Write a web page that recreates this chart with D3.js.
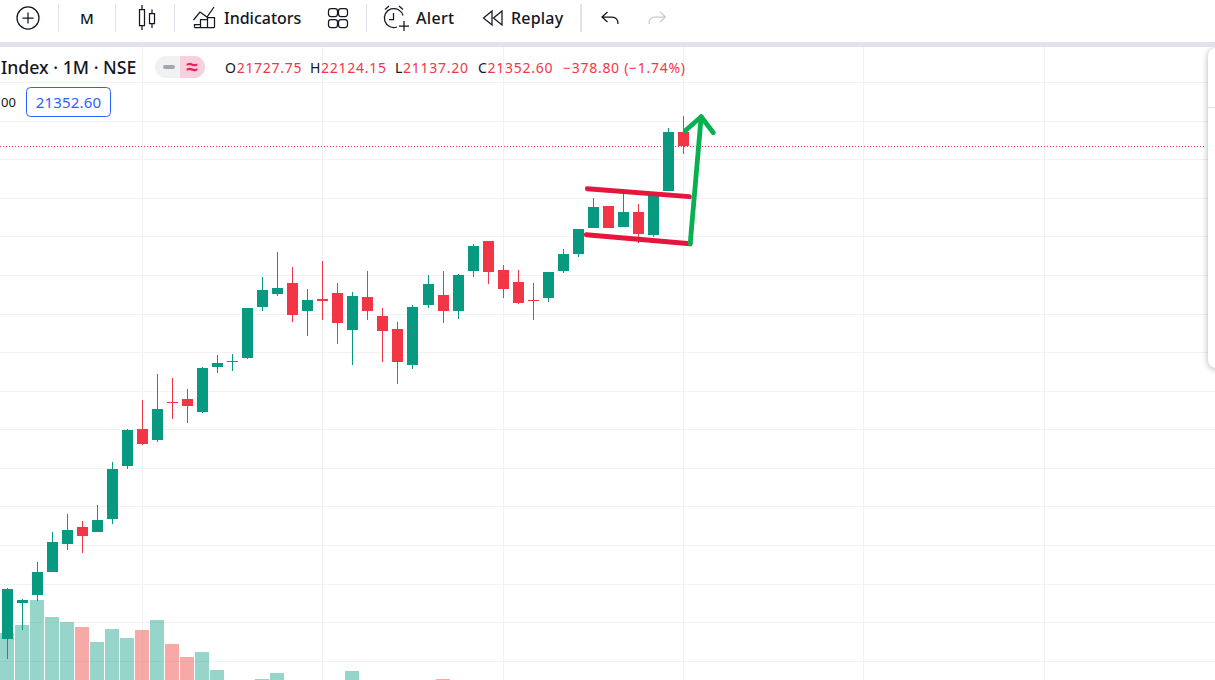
<!DOCTYPE html>
<html>
<head>
<meta charset="utf-8">
<title>Index 1M NSE</title>
<script src="https://cdn.jsdelivr.net/npm/d3@7"></script>
<style>
  html, body { margin: 0; padding: 0; background: #fff; overflow: hidden; }
  svg { display: block; }
  text { font-family: "Noto Sans", sans-serif; }
</style>
</head>
<body>
<svg id="chart" width="1215" height="680"></svg>
<script>
// monthly candles, index 0 is the leftmost one
const opens = [8576, 9510, 9718, 10314, 11041, 11482, 11352, 11689, 13064, 14024, 13738, 14724, 14802, 14465, 15632, 15762,
  15865, 17188, 17526, 17811, 17085, 17396, 17552, 16592, 17448, 16955, 16618, 15684, 17240, 17500, 17085, 18122, 18900,
  18148, 17837, 17370, 17422, 18122, 18563, 19238, 19808, 19264, 19653, 19056, 20197, 21727.75];
const highs = [9899, 9614, 10574, 11352, 11819, 11637, 12052, 13168, 14024, 14776, 15450, 15347, 15061, 15632, 15943, 15969,
  17162, 17967, 18615, 18226, 17655, 18382, 17811, 17578, 18122, 17162, 16799, 17240, 18018, 18122, 18044, 18823, 18900,
  18278, 18148, 17811, 18096, 18693, 19212, 20016, 19808, 20249, 19860, 20172, 21832, 22124.15];
const lows = [8057, 8810, 9562, 10314, 10885, 10807, 11352, 11559, 12986, 13609, 13687, 14283, 14179, 14439, 15476, 15528,
  15840, 17085, 17474, 16799, 16436, 16851, 16229, 15684, 16851, 15762, 15191, 15580, 17162, 16773, 16877, 17967, 17785,
  17422, 17266, 16851, 17318, 18070, 18485, 19238, 19238, 19264, 18849, 19004, 20197, 21137.2];
const closes = [9873, 9588, 10314, 11093, 11404, 11248, 11663, 12986, 13998, 13635, 14543, 14698, 14620, 15606, 15736, 15788,
  17162, 17629, 17681, 16981, 17370, 17344, 16773, 17474, 17085, 16566, 15762, 17188, 17785, 17085, 18018, 18771, 18096,
  17655, 17292, 17344, 18096, 18563, 19212, 19782, 19238, 19653, 19082, 20172, 21731.4, 21352.6];
// volume in relative units, most of the later bars sit below the visible pane
const volumes = [57, 65, 90, 73, 68, 63, 48, 61, 52, 60, 70, 46, 33, 38, 20, 6, 7, 11, 17, 8, 6, 5, 7, 19, 7, 6, 5, 8, 6,
  11, 5, 6, 7, 5, 6, 4, 5, 6, 7, 5, 4, 5, 6, 7, 8, 6];

const gridPrices = [8000, 9000, 10000, 11000, 12000, 13000, 14000, 15000, 16000, 17000, 18000, 19000, 20000, 21000, 22000, 23000];
const yearStarts = [9, 21, 33, 45, 57, 69];

// hand drawn trendlines and arrow, as [candle index, price]
const flagTop = [[38.6, 20249], [45.4, 20042]];
const flagBottom = [[38.53, 19056], [45.45, 18823]];
const arrowShaft = [[45.45, 18823], [46.18, 22117]];
const arrowHead = [[45.12, 21754], [46.18, 22117], [46.99, 21702]];

const ohlcLegend = [['O', '21727.75'], ['H', '22124.15'], ['L', '21137.20'], ['C', '21352.60']];

const UP = '#089981';
const DOWN = '#F23645';
const INK = '#131722';
const RULE = '#e0e3eb';
const GRID = '#f2f2f3';

const svg = d3.select('#chart');
const x = d3.scaleLinear().domain([0, 45]).range([7.31, 683.435]);
const y = d3.scaleLinear().domain([8000, 22000]).range([661.2, 121.2]);
const volY = d3.scaleLinear().domain([0, 100]).range([690, 590]);
const candles = opens.map((o, i) => ({ i, o, h: highs[i], l: lows[i], c: closes[i], v: volumes[i] }));
const px = (d) => Math.floor(x(d.i));

// grid
const pane = svg.append('g');
pane.selectAll('.hgrid').data(gridPrices).enter().append('line')
  .attr('x1', 0).attr('x2', 1215)
  .attr('y1', (d) => Math.floor(y(d)) + 0.5)
  .attr('y2', (d) => Math.floor(y(d)) + 0.5)
  .attr('stroke', GRID);
pane.selectAll('.vgrid').data(yearStarts).enter().append('line')
  .attr('x1', (d) => Math.floor(x(d)) + 0.5)
  .attr('x2', (d) => Math.floor(x(d)) + 0.5)
  .attr('y1', 47).attr('y2', 680)
  .attr('stroke', GRID);

// volume
pane.selectAll('.vol').data(candles).enter().append('rect')
  .attr('x', (d) => px(d) - 7)
  .attr('width', 14)
  .attr('y', (d) => volY(d.v))
  .attr('height', (d) => volY(0) - volY(d.v))
  .attr('fill', (d) => (d.c >= d.o ? 'rgba(8,153,129,0.42)' : 'rgba(239,83,80,0.5)'));

// last price line
pane.append('line')
  .attr('x1', 0).attr('x2', 1206)
  .attr('y1', Math.floor(y(closes[45])) + 0.5)
  .attr('y2', Math.floor(y(closes[45])) + 0.5)
  .attr('stroke', DOWN)
  .attr('stroke-dasharray', '1 2');

// candles
pane.selectAll('.wick').data(candles).enter().append('rect')
  .attr('x', px)
  .attr('width', 1)
  .attr('y', (d) => Math.round(y(d.h)))
  .attr('height', (d) => Math.round(y(d.l)) - Math.round(y(d.h)))
  .attr('fill', (d) => (d.c >= d.o ? UP : DOWN));
pane.selectAll('.body').data(candles).enter().append('rect')
  .attr('x', (d) => px(d) - 5)
  .attr('width', 11)
  .attr('y', (d) => Math.round(y(Math.max(d.o, d.c))))
  .attr('height', (d) => Math.max(1, Math.round(y(Math.min(d.o, d.c))) - Math.round(y(Math.max(d.o, d.c)))))
  .attr('fill', (d) => (d.c >= d.o ? UP : DOWN));

// drawings
const scribble = d3.line().x((d) => x(d[0])).y((d) => y(d[1]));
[[flagTop, '#e4163b'], [flagBottom, '#e4163b'], [arrowShaft, '#07b14f'], [arrowHead, '#07b14f']].forEach(([pts, color]) => {
  pane.append('path')
    .attr('d', scribble(pts))
    .attr('fill', 'none')
    .attr('stroke', color)
    .attr('stroke-width', 4.8)
    .attr('stroke-linecap', 'round')
    .attr('stroke-linejoin', 'round');
});

// side panel on the right edge
pane.append('rect')
  .attr('x', 1208).attr('y', 48).attr('width', 30).attr('height', 320).attr('rx', 8)
  .attr('fill', '#fff')
  .style('filter', 'drop-shadow(0 1px 3px rgba(0,0,0,0.3))');
pane.append('line')
  .attr('x1', 1208).attr('x2', 1215).attr('y1', 107.5).attr('y2', 107.5)
  .attr('stroke', RULE);

// toolbar
const bar = svg.append('g');
bar.append('rect').attr('width', 1215).attr('height', 42).attr('fill', '#fff');
bar.append('rect').attr('y', 42).attr('width', 1215).attr('height', 5).attr('fill', RULE);
[58, 115, 174, 366].forEach((sx) => {
  bar.append('line').attr('x1', sx + 0.5).attr('x2', sx + 0.5).attr('y1', 4).attr('y2', 32).attr('stroke', RULE);
});
bar.append('rect').attr('x', 580).attr('y', 4).attr('width', 2).attr('height', 28).attr('fill', RULE);

const icons = bar.append('g').attr('fill', 'none').attr('stroke', INK).attr('stroke-width', 1.25);
const glyph = (d, color) => icons.append('path').attr('d', d).attr('stroke', color || INK);
icons.append('circle').attr('cx', 28).attr('cy', 18).attr('r', 11);
glyph('M28 12.5V23.5M22.5 18H33.5');
// candles
glyph('M139.5 9.5H144.5V25.5H139.5ZM142 5V9.5M142 25.5V30M149.5 13.5H154.5V23.5H149.5ZM152 9.5V13.5M152 23.5V28');
// indicators
glyph('M193.5 20L200 12L207 17L214 7');
glyph('M194.5 27.5V24.5H200.5V27.5M200.5 27.5V19.5H207.5V27.5M207.5 27.5V17.5H214.5V27.5M194.5 27.5H214.5');
// layouts
[[328, 8], [338, 8], [328, 19], [338, 19]].forEach(([ix, iy]) => {
  icons.append('rect').attr('x', ix + 0.5).attr('y', iy + 0.5).attr('width', 9).attr('height', 8).attr('rx', 2.5);
});
// alert
glyph('M403 15.5A9.5 9.5 0 1 0 397 27M393.5 13V19.5H389M385 9.5L389 6M399 6L403 9.5M404 21V31M399 26H409');
// replay
glyph('M492 11L483.5 18L492 25ZM502 11L493.5 18L502 25Z');
// undo and redo
glyph('M607.5 12L602 17L607.5 22M602 17H612Q618 17 618 24');
glyph('M660 12L665.5 17L660 22M665.5 17H655Q649 17 649 24', '#c8cbd3');

const toolText = (tx, str, spacing, size) => bar.append('text')
  .attr('x', tx).attr('y', 24)
  .attr('font-size', size || 16)
  .attr('font-weight', 500)
  .attr('letter-spacing', spacing)
  .attr('fill', INK)
  .text(str);
toolText(80, 'M', 0, 15);
toolText(224, 'Indicators', 0);
toolText(416, 'Alert', 0.3);
toolText(511, 'Replay', 0.2);

// legend row
const legend = svg.append('g');
legend.append('text')
  .attr('x', 1).attr('y', 74)
  .attr('font-size', 17.7)
  .attr('font-weight', 500)
  .attr('fill', INK)
  .text('Index · 1M · NSE');

legend.append('rect').attr('x', 155).attr('y', 56).attr('width', 50).attr('height', 22).attr('rx', 11).attr('fill', '#f0f1f3');
legend.append('path').attr('d', 'M180 56H194A11 11 0 0 1 194 78H180Z').attr('fill', '#f7d0dc');
legend.append('rect').attr('x', 163).attr('y', 65).attr('width', 12).attr('height', 4).attr('rx', 2).attr('fill', '#a3a6af');
legend.append('text')
  .attr('x', 192).attr('y', 74)
  .attr('text-anchor', 'middle')
  .attr('font-size', 21)
  .attr('font-weight', 700)
  .attr('fill', '#e91e63')
  .text('≈');

const ohlcRow = legend.append('text').attr('y', 73).attr('font-size', 14).attr('letter-spacing', 0.72);
const ohlcX = [225, 310, 395, 478];
ohlcLegend.forEach(([key, val], i) => {
  ohlcRow.append('tspan').attr('x', ohlcX[i]).attr('fill', INK).text(key);
  ohlcRow.append('tspan').attr('fill', DOWN).text(val);
});
ohlcRow.append('tspan').attr('x', 563).attr('fill', DOWN).text('−378.80 (−1.74%)');

legend.append('text').attr('x', 1).attr('y', 107).attr('font-size', 13).attr('fill', INK).text('00');
legend.append('rect')
  .attr('x', 26.5).attr('y', 87.5).attr('width', 84).attr('height', 29).attr('rx', 4)
  .attr('fill', '#fff')
  .attr('stroke', '#2962ff');
legend.append('text')
  .attr('x', 68.5).attr('y', 108)
  .attr('text-anchor', 'middle')
  .attr('font-size', 15)
  .attr('letter-spacing', 0.15)
  .attr('fill', '#2962ff')
  .text('21352.60');
</script>
</body>
</html>
